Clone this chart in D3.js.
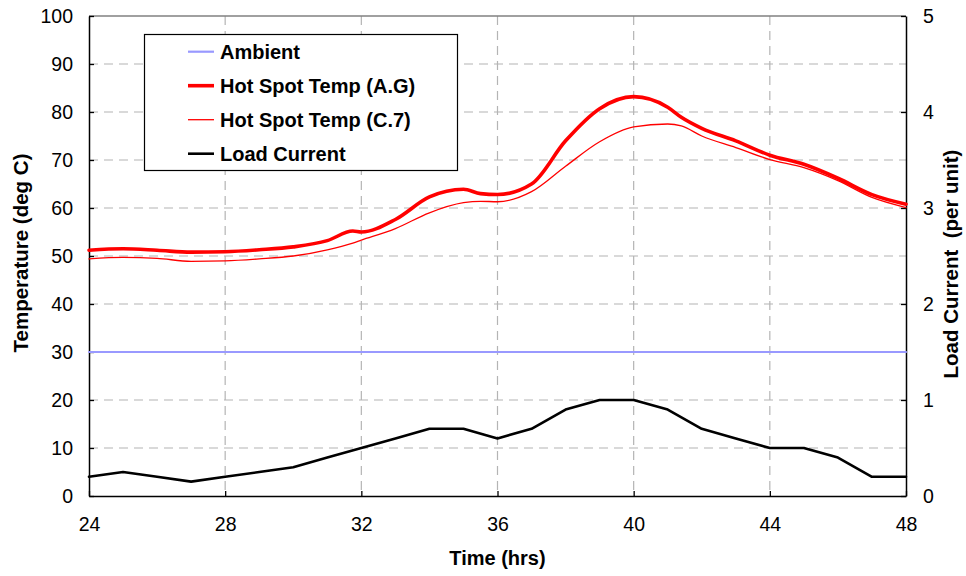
<!DOCTYPE html>
<html>
<head>
<meta charset="utf-8">
<script src="https://cdn.jsdelivr.net/npm/d3@7"></script>
<style>
  body { margin:0; background:#fff; }
  svg text { font-family: "Liberation Sans", Arial, sans-serif; }
</style>
</head>
<body>
<svg width="966" height="576"></svg>
<script>
//data
const hours = [24,25,26,27,28,29,30,31,31.75,32,33,34,35,35.5,36,37,38,39,40,41,41.4,42,43,44,45,46,47,48]
const hotSpotAG = [51.2,51.5,51.2,50.8,50.9,51.3,51.9,53.2,55.2,55.0,57.6,62.3,63.9,63.0,62.8,65.0,74.0,80.7,83.2,81.0,78.9,76.6,74.0,71.0,69.1,66.2,62.8,60.8]
const hotSpotC7 = [49.4,49.7,49.5,48.9,49.0,49.4,50.0,51.3,52.7,53.3,55.7,59.0,61.1,61.4,61.3,63.4,68.7,73.8,76.9,77.5,77.1,75.0,72.6,70.1,68.4,65.7,62.2,60.1]
const loadHours = [24,25,26,27,28,29,30,31,32,33,34,35,36,37,38,39,40,41,42,43,44,45,46,47,48]
const loadCurrent = [0.2,0.25,0.2,0.15,0.2,0.25,0.3,0.4,0.5,0.6,0.7,0.7,0.6,0.7,0.9,1.0,1.0,0.9,0.7,0.6,0.5,0.5,0.4,0.2,0.2]
const ambientHours = [24,48]
const ambient = [30,30]
const xTicks = [24,28,32,36,40,44,48]
const yTicks = [0,10,20,30,40,50,60,70,80,90,100]
const yRTicks = [0,1,2,3,4,5]
const legendNames = ["Ambient","Hot Spot Temp (A.G)","Hot Spot Temp (C.7)","Load Current"]

const svg = d3.select("svg")
//plot box
const L = 89, R = 906, T = 16, B = 496

const x = d3.scaleLinear().domain([24,48]).range([L,R])
const y = d3.scaleLinear().domain([0,100]).range([B,T])
const yR = d3.scaleLinear().domain([0,5]).range([B,T])

//grid
let grid = svg.append("g").attr("stroke","#b4b4b4").attr("stroke-width",1.2).attr("stroke-dasharray","9,6")
grid.selectAll("line.h").data(yTicks.slice(1,-1)).enter().append("line")
  .attr("x1",L).attr("x2",R).attr("y1",d=>y(d)).attr("y2",d=>y(d))
grid.selectAll("line.v").data(xTicks.slice(1,-1)).enter().append("line")
  .attr("y1",T).attr("y2",B).attr("x1",d=>x(d)).attr("x2",d=>x(d))

//top border
svg.append("line").attr("x1",L).attr("x2",R).attr("y1",T).attr("y2",T).attr("stroke","#808080").attr("stroke-width",1.5)

//axes, ticks inside
const styleAxis = (g)=>{
  g.select(".domain").attr("stroke","#000").attr("stroke-width",1.5)
  g.selectAll(".tick line").attr("stroke","#000").attr("stroke-width",1.3)
  g.selectAll(".tick text").attr("font-size",19.5).attr("fill","#000")
}
svg.append("g").attr("transform",`translate(0,${B})`)
  .call(d3.axisBottom(x).tickValues(xTicks).tickSizeInner(-5).tickSizeOuter(0).tickPadding(21))
  .call(styleAxis)
svg.append("g").attr("transform",`translate(${L},0)`)
  .call(d3.axisLeft(y).tickValues(yTicks).tickSizeInner(-5).tickSizeOuter(0).tickPadding(16))
  .call(styleAxis)
svg.append("g").attr("transform",`translate(${R},0)`)
  .call(d3.axisRight(yR).tickValues(yRTicks).tickFormat(d3.format("d")).tickSizeInner(-5).tickSizeOuter(0).tickPadding(17))
  .call(styleAxis)

//series
const line = (xs, ys, sc, curve)=> d3.line().x((d,i)=>x(xs[i])).y(d=>sc(d)).curve(curve)(ys)
let g = svg.append("g").attr("fill","none").attr("stroke-linejoin","round").attr("stroke-linecap","round")
g.append("path").attr("d", line(ambientHours, ambient, y, d3.curveLinear)).attr("stroke","#9999ff").attr("stroke-width",2.2)
g.append("path").attr("d", line(loadHours, loadCurrent, yR, d3.curveLinear)).attr("stroke","#000").attr("stroke-width",2.6)
g.append("path").attr("d", line(hours, hotSpotC7, y, d3.curveMonotoneX)).attr("stroke","#ff0000").attr("stroke-width",1.3)
g.append("path").attr("d", line(hours, hotSpotAG, y, d3.curveMonotoneX)).attr("stroke","#ff0000").attr("stroke-width",3.6)

//axis titles
svg.append("text").attr("x",(L+R)/2).attr("y",565).attr("text-anchor","middle")
  .attr("font-size",20).attr("font-weight","bold").text("Time (hrs)")
svg.append("text").attr("transform",`translate(28,253) rotate(-90)`).attr("text-anchor","middle")
  .attr("font-size",20.5).attr("font-weight","bold").text("Temperature (deg C)")
svg.append("text").attr("transform",`translate(958,264) rotate(-90)`).attr("text-anchor","middle")
  .attr("font-size",20.5).attr("font-weight","bold").attr("xml:space","preserve").style("white-space","pre").text("Load Current  (per unit)")

//legend
let lg = svg.append("g")
lg.append("rect").attr("x",144.5).attr("y",34.5).attr("width",313).attr("height",136).attr("fill","#fff").attr("stroke","#000").attr("stroke-width",1.2)
const legendStyle = [["#9999ff",2.2],["#ff0000",3.6],["#ff0000",1.3],["#000",2.6]]
lg.selectAll("line").data(legendNames).enter().append("line")
  .attr("x1",188).attr("x2",214).attr("y1",(d,i)=>51.7+i*34).attr("y2",(d,i)=>51.7+i*34)
  .attr("stroke",(d,i)=>legendStyle[i][0]).attr("stroke-width",(d,i)=>legendStyle[i][1])
lg.selectAll("text").data(legendNames).enter().append("text")
  .attr("x",220).attr("y",(d,i)=>59+i*34).attr("font-size",20).attr("font-weight","bold").text(d=>d)
</script>
</body>
</html>
